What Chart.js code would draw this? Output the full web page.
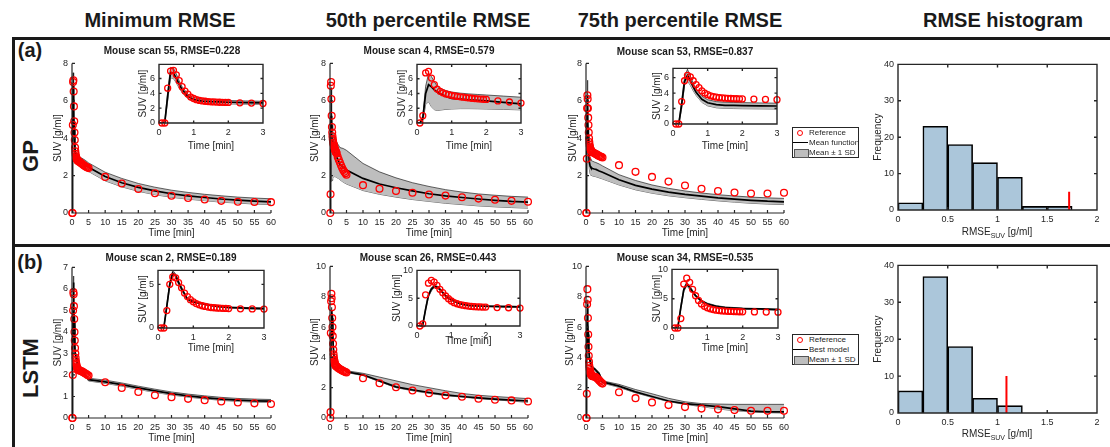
<!DOCTYPE html>
<html>
<head>
<meta charset="utf-8">
<script src="https://cdn.jsdelivr.net/npm/chart.js@4.4.1/dist/chart.umd.min.js"></script>
<style>
  body { margin: 0; width: 1110px; height: 447px; background: #fff; position: relative; overflow: hidden;
         font-family: 'Liberation Sans', Arial, sans-serif; color: #262626; }
  canvas { position: absolute; z-index: 1; }
  .t { position: absolute; transform: translate(-50%, -50%); white-space: nowrap; z-index: 3; }
  .hd { font-weight: bold; font-size: 20px; color: #1a1a1a; }
  .pl { font-weight: bold; font-size: 20px; color: #1a1a1a; }
  .rl { font-weight: bold; font-size: 22px; color: #1a1a1a; transform: translate(-50%, -50%) rotate(-90deg); }
  .st { font-weight: bold; font-size: 10px; color: #1a1a1a; }
  .xl { font-size: 10px; }
  .xl sub { font-size: 7px; vertical-align: -3px; }
  .rule { position: absolute; background: #1a1a1a; z-index: 3; }
  .lg { position: absolute; width: 65px; height: 29px; border: 1px solid #262626; background: #fff; font-size: 8px; z-index: 3; }
  .lg div { position: relative; height: 10px; line-height: 10px; padding-left: 16px; white-space: nowrap; }
  .lg .c { position: absolute; left: 4px; top: 2px; width: 4px; height: 4px; border: 1.4px solid #ff0000; border-radius: 50%; }
  .lg .l { position: absolute; left: 0; top: 4px; width: 15px; border-top: 1.5px solid #000; }
  .lg .p { position: absolute; left: 1px; top: 1px; width: 13px; height: 7px; background: #bebebe; border: 0.8px solid #555; }
</style>
</head>
<body>
<div class="t hd" style="left:160px;top:20px">Minimum RMSE</div>
<div class="t hd" style="left:428px;top:20px">50th percentile RMSE</div>
<div class="t hd" style="left:680px;top:20px">75th percentile RMSE</div>
<div class="t hd" style="left:1003px;top:20px">RMSE histogram</div>

<div class="rule" style="left:12px;top:37px;width:1098px;height:3px"></div>
<div class="rule" style="left:12px;top:244px;width:1098px;height:3px"></div>
<div class="rule" style="left:12px;top:37px;width:3px;height:410px"></div>

<div class="t pl" style="left:30px;top:50px">(a)</div>
<div class="t pl" style="left:30px;top:262px">(b)</div>
<div class="t rl" style="left:31px;top:156px">GP</div>
<div class="t rl" style="left:31px;top:368px">LSTM</div>

<div class="t st" style="left:172px;top:50px">Mouse scan 55, RMSE=0.228</div>
<div class="t st" style="left:429px;top:50px">Mouse scan 4, RMSE=0.579</div>
<div class="t st" style="left:685px;top:51px">Mouse scan 53, RMSE=0.837</div>
<div class="t st" style="left:171px;top:257px">Mouse scan 2, RMSE=0.189</div>
<div class="t st" style="left:428px;top:257px">Mouse scan 26, RMSE=0.443</div>
<div class="t st" style="left:685px;top:257px">Mouse scan 34, RMSE=0.535</div>

<div class="t xl" style="left:997px;top:232px">RMSE<sub>SUV</sub> [g/ml]</div>
<div class="t xl" style="left:997px;top:434px">RMSE<sub>SUV</sub> [g/ml]</div>

<script>
// sample times [min]
const tRef = [0.083, 0.167, 0.25, 0.333, 0.417, 0.5, 0.583, 0.667, 0.75, 0.833, 0.917, 1,
  1.083, 1.167, 1.25, 1.333, 1.417, 1.5, 1.583, 1.667, 1.75, 1.833, 1.917, 2,
  2.333, 2.667, 3, 3.333, 3.667, 4, 4.333, 4.667, 5,
  10, 15, 20, 25, 30, 35, 40, 45, 50, 55, 60];
const tModel = [0, 0.083, 0.167, 0.25, 0.333, 0.417, 0.5, 0.583, 0.667, 0.833,
  1, 1.25, 1.5, 1.75, 2, 2.5, 3, 4, 5,
  10, 15, 20, 25, 30, 35, 40, 45, 50, 55, 60];

// (a) GP - reference SUV, mean function, mean +/- 1 SD
const refA1 = [0, 0, 4.7, 7.0, 7.1, 6.5, 5.7, 4.9, 4.3, 3.9, 3.5, 3.3,
  3.15, 3.05, 2.98, 2.93, 2.89, 2.86, 2.84, 2.82, 2.8, 2.79, 2.78, 2.77,
  2.72, 2.68, 2.63, 2.58, 2.54, 2.5, 2.46, 2.43, 2.4,
  1.93, 1.58, 1.28, 1.06, 0.92, 0.8, 0.72, 0.65, 0.6, 0.59, 0.58];
const midA1 = [0, 0, 0.1, 3.6, 6.8, 6.7, 6.0, 5.2, 4.5, 3.6, 3.15, 2.95, 2.88, 2.84, 2.8, 2.76, 2.72, 2.6, 2.45,
  1.95, 1.62, 1.37, 1.18, 1.03, 0.92, 0.83, 0.75, 0.69, 0.64, 0.6];
const hiA1 = [0, 0, 0.3, 4.2, 7.5, 7.4, 6.6, 5.7, 4.9, 3.9, 3.42, 3.2, 3.12, 3.07, 3.03, 2.98, 2.93, 2.82, 2.68,
  2.18, 1.85, 1.58, 1.38, 1.22, 1.1, 1.0, 0.92, 0.85, 0.8, 0.76];
const loA1 = [0, 0, 0, 3.0, 6.1, 6.0, 5.4, 4.7, 4.1, 3.3, 2.9, 2.7, 2.64, 2.6, 2.57, 2.53, 2.5, 2.38, 2.22,
  1.72, 1.4, 1.16, 0.98, 0.84, 0.74, 0.66, 0.58, 0.53, 0.48, 0.45];

const refA2 = [0, 1.0, 6.8, 7.0, 6.1, 5.2, 4.6, 4.3, 4.1, 3.95, 3.85, 3.75,
  3.67, 3.6, 3.55, 3.5, 3.45, 3.4, 3.36, 3.32, 3.28, 3.25, 3.22, 3.2,
  3.0, 2.85, 2.7, 2.55, 2.42, 2.3, 2.2, 2.12, 2.05,
  1.49, 1.3, 1.18, 1.08, 0.99, 0.93, 0.84, 0.77, 0.71, 0.65, 0.6];
const midA2 = [0, 0, 0.6, 4.0, 5.2, 4.9, 4.5, 4.2, 3.95, 3.6, 3.35, 3.25, 3.15, 3.08, 3.0, 2.8, 2.6, 2.45, 2.3,
  1.85, 1.55, 1.35, 1.18, 1.03, 0.92, 0.83, 0.75, 0.68, 0.62, 0.58];
const hiA2 = [0, 0, 1.0, 5.0, 6.7, 6.3, 5.6, 5.0, 4.7, 4.4, 4.2, 4.05, 3.95, 3.87, 3.8, 3.65, 3.5, 3.45, 3.35,
  2.65, 2.2, 1.88, 1.62, 1.42, 1.25, 1.12, 1.02, 0.95, 0.89, 0.85];
const loA2 = [0, 0, 0.2, 2.5, 2.9, 2.2, 1.8, 1.7, 1.75, 1.85, 1.9, 1.95, 1.95, 1.93, 1.9, 1.85, 1.78, 1.65, 1.55,
  1.2, 1.0, 0.85, 0.72, 0.62, 0.52, 0.45, 0.38, 0.33, 0.29, 0.26];

const refA3 = [0, 0, 2.9, 5.6, 6.3, 6.1, 5.6, 5.1, 4.7, 4.3, 4.0, 3.8,
  3.65, 3.55, 3.47, 3.42, 3.38, 3.35, 3.32, 3.3, 3.28, 3.27, 3.26, 3.25,
  3.22, 3.18, 3.15, 3.12, 3.08, 3.05, 3.02, 3.0, 2.97,
  2.56, 2.2, 1.93, 1.68, 1.47, 1.3, 1.18, 1.1, 1.04, 1.04, 1.08];
const midA3 = [0, 0, 0, 2.5, 5.5, 6.3, 5.6, 4.8, 4.1, 3.2, 2.75, 2.5, 2.42, 2.4, 2.38, 2.35, 2.33, 2.25, 2.18,
  1.78, 1.48, 1.28, 1.12, 1.0, 0.9, 0.81, 0.74, 0.68, 0.63, 0.6];
const hiA3 = [0, 0, 0.2, 3.0, 6.1, 7.1, 6.2, 5.3, 4.5, 3.6, 3.15, 2.9, 2.82, 2.79, 2.77, 2.73, 2.7, 2.62, 2.52,
  2.05, 1.74, 1.5, 1.32, 1.18, 1.07, 0.98, 0.91, 0.85, 0.81, 0.78];
const loA3 = [0, 0, 0, 2.0, 5.0, 5.6, 5.0, 4.3, 3.7, 2.8, 2.35, 2.1, 2.02, 2.0, 1.98, 1.96, 1.94, 1.88, 1.82,
  1.5, 1.24, 1.06, 0.92, 0.82, 0.73, 0.65, 0.58, 0.52, 0.48, 0.45];

// (b) LSTM - reference SUV, best model, mean +/- 1 SD
const refB1 = [0, 0, 2.0, 5.0, 5.85, 5.75, 5.2, 4.6, 4.0, 3.6, 3.25, 3.0,
  2.8, 2.65, 2.55, 2.47, 2.4, 2.35, 2.32, 2.29, 2.27, 2.25, 2.24, 2.23,
  2.2, 2.18, 2.17, 2.13, 2.1, 2.07, 2.04, 2.0, 1.97,
  1.66, 1.4, 1.21, 1.06, 0.97, 0.89, 0.83, 0.77, 0.72, 0.68, 0.65];
const midB1 = [0, 0, 0.1, 2.5, 5.0, 6.3, 6.0, 5.2, 4.5, 3.3, 3.0, 2.8, 2.6, 2.45, 2.35, 2.28, 2.22, 2.0, 1.78,
  1.68, 1.55, 1.4, 1.26, 1.13, 1.03, 0.95, 0.88, 0.83, 0.8, 0.78];
const hiB1 = [0, 0, 0.15, 2.7, 5.3, 6.6, 6.2, 5.4, 4.7, 3.4, 3.1, 2.88, 2.68, 2.53, 2.43, 2.35, 2.3, 2.08, 1.85,
  1.76, 1.63, 1.48, 1.34, 1.21, 1.11, 1.03, 0.96, 0.91, 0.88, 0.86];
const loB1 = [0, 0, 0.05, 2.3, 4.8, 6.0, 5.8, 5.0, 4.3, 3.2, 2.9, 2.72, 2.52, 2.38, 2.28, 2.2, 2.15, 1.93, 1.72,
  1.61, 1.48, 1.33, 1.19, 1.07, 0.97, 0.89, 0.82, 0.77, 0.74, 0.72];

const refB2 = [0, 0.4, 5.6, 7.7, 8.2, 7.9, 7.3, 6.6, 6.0, 5.4, 4.9, 4.5,
  4.2, 4.0, 3.85, 3.75, 3.65, 3.58, 3.52, 3.48, 3.45, 3.43, 3.41, 3.4,
  3.32, 3.28, 3.22, 3.18, 3.14, 3.1, 3.06, 3.03, 3.0,
  2.62, 2.29, 2.03, 1.81, 1.64, 1.48, 1.4, 1.27, 1.2, 1.16, 1.09];
const midB2 = [0, 0, 0.2, 3.0, 5.5, 6.6, 7.1, 7.0, 6.6, 5.4, 4.7, 4.0, 3.7, 3.6, 3.55, 3.5, 3.45, 3.3, 3.05,
  2.85, 2.45, 2.05, 1.85, 1.68, 1.52, 1.42, 1.33, 1.25, 1.18, 1.12];
const hiB2 = [0, 0, 0.3, 3.3, 5.8, 6.9, 7.3, 7.2, 6.8, 5.6, 4.85, 4.1, 3.8, 3.7, 3.65, 3.6, 3.52, 3.38, 3.12,
  2.95, 2.7, 2.45, 2.2, 2.0, 1.8, 1.62, 1.5, 1.42, 1.35, 1.28];
const loB2 = [0, 0, 0.1, 2.8, 5.2, 6.3, 6.9, 6.8, 6.4, 5.2, 4.55, 3.9, 3.62, 3.52, 3.47, 3.42, 3.38, 3.22, 3.0,
  2.8, 2.4, 2.0, 1.8, 1.62, 1.48, 1.38, 1.28, 1.2, 1.12, 1.03];

const refB3 = [0, 0, 1.6, 7.5, 8.5, 7.8, 6.6, 5.5, 4.7, 4.1, 3.7, 3.45,
  3.28, 3.15, 3.05, 2.98, 2.92, 2.88, 2.85, 2.82, 2.8, 2.78, 2.77, 2.76,
  2.74, 2.72, 2.7, 2.62, 2.55, 2.48, 2.4, 2.33, 2.27,
  1.7, 1.31, 1.03, 0.85, 0.72, 0.62, 0.57, 0.52, 0.48, 0.47, 0.47];
const midB3 = [0, 0, 0.2, 3.5, 6.5, 7.5, 6.9, 6.2, 5.5, 4.6, 4.1, 3.7, 3.5, 3.4, 3.3, 3.25, 3.15, 2.9, 2.38,
  2.1, 1.72, 1.42, 1.12, 0.95, 0.85, 0.75, 0.6, 0.45, 0.4, 0.4];
const hiB3 = [0, 0, 0.3, 3.8, 6.9, 7.8, 7.2, 6.4, 5.7, 4.75, 4.25, 3.82, 3.6, 3.5, 3.4, 3.33, 3.22, 3.0, 2.45,
  2.22, 1.88, 1.6, 1.3, 1.07, 0.95, 0.92, 0.9, 0.9, 0.9, 0.9];
const loB3 = [0, 0, 0.1, 3.2, 6.2, 7.2, 6.6, 6.0, 5.3, 4.45, 3.95, 3.6, 3.4, 3.3, 3.2, 3.15, 3.05, 2.8, 2.3,
  2.02, 1.66, 1.36, 1.08, 0.9, 0.75, 0.6, 0.48, 0.4, 0.35, 0.33];

// RMSE histograms (bin width 0.25)
const binCenters = [0.125, 0.375, 0.625, 0.875, 1.125, 1.375, 1.625, 1.875];
const countsGP = [2, 23, 18, 13, 9, 1, 1, 0];
const countsLSTM = [6, 37, 18, 4, 2, 0, 0, 0];
const markGP = [1.72, 5];     // [RMSE, bar height] of the red marker
const markLSTM = [1.09, 10];

const FONT = "'Liberation Sans', Arial, sans-serif";
const INK = '#262626';
Chart.defaults.font.family = FONT;

// matlab-like axes: left/bottom lines or full box, ticks pointing inwards
const axesPlugin = {
  id: 'mAxes',
  beforeDatasetsDraw(chart, args, o) {
    if (!o.fill) return;
    const { ctx, chartArea: a } = chart;
    ctx.save();
    ctx.fillStyle = o.fill;
    ctx.fillRect(a.left, a.top, a.right - a.left, a.bottom - a.top);
    ctx.restore();
  },
  afterDatasetsDraw(chart, args, o) {
    const { ctx, chartArea: a, scales: { x, y } } = chart;
    const L = a.left, R = a.right, T = a.top, B = a.bottom, k = o.tick;
    ctx.save();
    ctx.strokeStyle = INK;
    ctx.lineWidth = o.width;
    ctx.beginPath();
    if (o.box) {
      ctx.rect(L, T, R - L, B - T);
    } else {
      ctx.moveTo(L, T); ctx.lineTo(L, B); ctx.lineTo(R, B);
    }
    x.ticks.forEach(t => {
      const p = x.getPixelForValue(t.value);
      ctx.moveTo(p, B); ctx.lineTo(p, B - k);
      if (o.box) { ctx.moveTo(p, T); ctx.lineTo(p, T + k); }
    });
    y.ticks.forEach(t => {
      const p = y.getPixelForValue(t.value);
      ctx.moveTo(L, p); ctx.lineTo(L + k, p);
      if (o.box) { ctx.moveTo(R, p); ctx.lineTo(R - k, p); }
    });
    ctx.stroke();
    ctx.restore();
  }
};

// canvas placed so that the plot area lands on rect [x0, y0, x1, y1]
function mount(r, pad) {
  const c = document.createElement('canvas');
  const w = r[2] - r[0] + pad.yw + pad.right;
  const h = r[3] - r[1] + pad.top + pad.xh;
  c.width = w; c.height = h;
  c.style.left = (r[0] - pad.yw) + 'px';
  c.style.top = (r[1] - pad.top) + 'px';
  c.style.width = w + 'px'; c.style.height = h + 'px';
  document.body.appendChild(c);
  return c;
}

function axis(min, max, step, size, title) {
  return {
    type: 'linear', min, max, offset: false,
    afterFit: s => { if (s.isHorizontal()) s.height = size; else s.width = size; },
    grid: { display: false, drawTicks: false, offset: false },
    border: { display: false },
    ticks: { stepSize: step, autoSkip: false, maxRotation: 0, includeBounds: false, padding: 4,
             color: INK, font: { size: 9 }, callback: v => String(+v.toFixed(2)) },
    title: title ? { display: true, text: title, padding: 0, color: INK, font: { size: 10, lineHeight: 1.2 } }
                 : { display: false }
  };
}

const pts = (xs, ys) => xs.map((x, i) => ({ x, y: ys[i] }));

function curveChart(r, ylabX, xlabY, xmax, xstep, ymax, ystep, ref, mid, hi, lo, inset) {
  const pad = { yw: r[0] - (ylabX - 6), xh: xlabY + 6 - r[3], top: 8, right: 8 };
  const c = mount(r, pad);
  new Chart(c, {
    type: 'line',
    data: {
      datasets: [
        { data: pts(tRef, ref), showLine: false, pointRadius: inset ? 3 : 3.4, pointBorderWidth: 1.3,
          pointBorderColor: '#ff0000', pointBackgroundColor: 'rgba(0,0,0,0)', clip: inset ? 4 : false },
        { data: pts(tModel, mid), borderColor: '#000', borderWidth: 1.7, pointRadius: 0, clip: 0 },
        { data: pts(tModel, hi), borderColor: '#000', borderWidth: 0.6, pointRadius: 0, clip: 0,
          fill: '+1', backgroundColor: '#bebebe' },
        { data: pts(tModel, lo), borderColor: '#000', borderWidth: 0.6, pointRadius: 0, clip: 0 }
      ]
    },
    options: {
      responsive: false, animation: false, events: [],
      layout: { padding: { top: pad.top, right: pad.right, left: 0, bottom: 0 } },
      elements: { line: { tension: 0 } },
      scales: {
        x: axis(0, xmax, xstep, pad.xh, 'Time [min]'),
        y: axis(0, ymax, ystep, pad.yw, 'SUV [g/ml]')
      },
      plugins: { legend: { display: false }, tooltip: { enabled: false },
                 mAxes: { box: !!inset, tick: inset ? 2.5 : 3, width: inset ? 1.4 : 1.2, fill: inset ? '#fff' : null } }
    },
    plugins: [axesPlugin]
  });
}

function histChart(r, ylabX, counts, mark) {
  const pad = { yw: r[0] - (ylabX - 6), xh: 16, top: 8, right: 8 };
  const c = mount(r, pad);
  const bars = binCenters.map((x, i) => ({ x, y: counts[i] })).filter(d => d.y > 0);
  new Chart(c, {
    type: 'bar',
    data: {
      datasets: [
        { type: 'line', data: [{ x: mark[0], y: 0 }, { x: mark[0], y: mark[1] }], borderColor: '#ff0000',
          borderWidth: 2, pointRadius: 0 },
        { data: bars, backgroundColor: '#abc6da', borderColor: '#000', borderWidth: 1.6,
          barPercentage: 1, categoryPercentage: 1 }
      ]
    },
    options: {
      responsive: false, animation: false, events: [],
      layout: { padding: { top: pad.top, right: pad.right, left: 0, bottom: 0 } },
      scales: {
        x: axis(0, 2, 0.5, pad.xh, null),
        y: axis(0, 40, 10, pad.yw, 'Frequency')
      },
      plugins: { legend: { display: false }, tooltip: { enabled: false },
                 mAxes: { box: true, tick: 3, width: 1.4 } }
    },
    plugins: [axesPlugin]
  });
}

// row (a): GP
curveChart([72, 62, 272, 213], 58, 233, 60, 5, 8, 2, refA1, midA1, hiA1, loA1, false);
curveChart([330, 62, 529, 213], 315, 233, 60, 5, 8, 2, refA2, midA2, hiA2, loA2, false);
curveChart([586, 62, 785, 213], 573, 233, 60, 5, 8, 2, refA3, midA3, hiA3, loA3, false);
curveChart([159, 63, 263, 123], 143, 146, 3, 1, 7.9, 2, refA1, midA1, hiA1, loA1, true);
curveChart([417, 63, 521, 123], 402, 146, 3, 1, 7.95, 2, refA2, midA2, hiA2, loA2, true);
curveChart([673, 67, 777, 124], 657, 146, 3, 1, 7.2, 2, refA3, midA3, hiA3, loA3, true);
histChart([898, 63, 1097, 210], 878, countsGP, markGP);

// row (b): LSTM
curveChart([72, 266, 272, 418], 58, 438, 60, 5, 7, 1, refB1, midB1, hiB1, loB1, false);
curveChart([330, 265, 529, 418], 315, 438, 60, 5, 10, 2, refB2, midB2, hiB2, loB2, false);
curveChart([586, 265, 785, 418], 570, 438, 60, 5, 10, 2, refB3, midB3, hiB3, loB3, false);
curveChart([158, 269, 264, 328], 143, 348, 3, 1, 6.6, 5, refB1, midB1, hiB1, loB1, true);
curveChart([417, 269, 520, 326], 397, 341, 3, 1, 10, 5, refB2, midB2, hiB2, loB2, true);
curveChart([672, 268, 778, 328], 657, 348, 3, 1, 10, 5, refB3, midB3, hiB3, loB3, true);
histChart([898, 264, 1097, 413], 878, countsLSTM, markLSTM);
</script>

<div class="lg" style="left:792px;top:127px">
  <div><i class="c"></i>Reference</div>
  <div><i class="l"></i>Mean function</div>
  <div><i class="p"></i>Mean ± 1 SD</div>
</div>
<div class="lg" style="left:792px;top:334px">
  <div><i class="c"></i>Reference</div>
  <div><i class="l"></i>Best model</div>
  <div><i class="p"></i>Mean ± 1 SD</div>
</div>
</body>
</html>
